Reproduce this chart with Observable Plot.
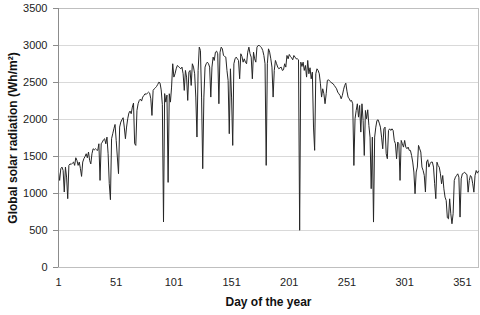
<!DOCTYPE html>
<html>
<head>
<meta charset="utf-8">
<script src="https://cdn.jsdelivr.net/npm/d3@7"></script>
<script src="https://cdn.jsdelivr.net/npm/@observablehq/plot@0.6"></script>
<style>
  html, body { margin: 0; padding: 0; background: #fff; }
  svg { font-family: "Liberation Sans", Arial, sans-serif; }
</style>
</head>
<body>
<div id="chart"></div>
<script>
// Daily global solar radiation (Wh/m²), day 1..365
const radiation = [
  1290,1177,1335,1357,1312,1020,1357,1222,930,1380,
  1400,1393,1410,1425,1380,1483,1447,1380,1425,1335,
  1231,1425,1470,1500,1537,1483,1560,1447,1400,1537,
  1605,1590,1605,1590,1582,1672,1177,1672,1695,1726,
  1740,1672,1762,1537,1132,916,1740,1807,1875,1933,
  1718,1493,1268,1898,1965,1997,2024,1898,1740,1898,
  2010,2087,2114,2078,2168,2222,1673,1650,2123,2213,
  2258,2276,2249,2303,2325,2348,2339,2357,2370,2357,
  2280,2055,2393,2415,2429,2447,2474,2505,2492,2400,
  2200,615,2350,2235,2330,1150,2348,2235,2438,2753,
  2573,2618,2685,2730,2717,2699,2685,2708,2618,2393,
  2663,2573,2258,2640,2663,2460,2753,2708,2618,2303,
  1763,2663,2978,2933,2303,1335,2303,2708,2753,2775,
  2753,2708,2303,2708,2843,2798,2910,2924,2888,2213,
  2910,2978,2955,2865,2852,2843,2663,2528,1808,2685,
  2303,1650,2753,2820,2843,2820,2798,2550,2888,2852,
  2775,2820,2775,2753,2910,2978,2888,2843,2550,2910,
  2820,2775,2978,3000,3000,2987,2969,2933,2865,2753,
  1380,2753,2955,2910,2820,2708,2303,2663,2798,2753,
  2708,2685,2699,2708,2663,2672,2753,2708,2865,2820,
  2879,2852,2834,2807,2865,2843,2820,2820,2807,503,
  2775,2717,2775,2663,2730,2573,2798,2618,2699,2550,
  2640,1898,1583,2618,2685,2663,2618,2483,2303,2415,
  2348,2213,2348,2528,2537,2519,2505,2492,2483,2460,
  2438,2415,2370,2347,2325,2280,2325,2401,2460,2491,
  2383,2302,2280,2248,2257,2212,1379,2010,2122,2212,
  2032,2190,1830,2212,1987,1514,2122,2010,2131,1919,
  1762,1065,1762,614,1762,1897,1987,1996,1951,1897,
  1762,1604,1874,1897,1537,1470,1852,1874,1852,1874,
  1852,1717,1672,1470,1695,1672,1177,1717,1672,1627,
  1717,1627,1605,1627,1582,1582,1515,1425,1290,997,
  1290,1357,1650,1605,1560,1357,1312,1245,1020,1425,
  1456,1357,1402,1425,1425,1357,1132,930,1423,1378,
  1356,1266,1131,1243,1063,951,906,672,658,928,
  726,591,726,1176,1221,1243,1266,1221,681,1198,
  1266,1275,1288,1266,1257,1018,1176,1243,1221,1131,
  1018,1243,1311,1275,1302
];
const days = radiation.map((_, i) => i + 1);
const xTicks = [1, 51, 101, 151, 201, 251, 301, 351];
const yTicks = [0, 500, 1000, 1500, 2000, 2500, 3000, 3500];

const data = days.map((d, i) => ({day: d, value: radiation[i]}));

const chart = Plot.plot({
  width: 480,
  height: 315,
  marginLeft: 58,
  marginRight: 2,
  marginTop: 8,
  marginBottom: 48,
  style: {fontFamily: "'Liberation Sans', Arial, sans-serif", fontSize: "11px", color: "#222", background: "#fff"},
  x: {domain: [1, 365]},
  y: {domain: [0, 3500]},
  marks: [
    Plot.gridY(yTicks, {stroke: "#d9d9d9", strokeOpacity: 1}),
    Plot.frame({stroke: "#bfbfbf"}),
    Plot.line(data, {x: "day", y: "value", stroke: "#262626", strokeWidth: 1}),
    Plot.ruleX([1], {stroke: "#8c8c8c"}),
    Plot.axisY(yTicks, {
      tickSize: 5, tickPadding: 6, stroke: "#8c8c8c",
      tickFormat: d => String(d),
      label: "Global solar radiation (Wh/m²)", labelAnchor: "center", labelArrow: "none",
      labelOffset: 50
    }),
    Plot.axisX(xTicks, {
      tickSize: 0, tickPadding: 11,
      tickFormat: d => String(d),
      label: "Day of the year", labelAnchor: "center", labelArrow: "none",
      labelOffset: 38
    })
  ]
});

chart.querySelectorAll("g[aria-label='y-axis label'] text, g[aria-label='x-axis label'] text").forEach(t => {
  t.setAttribute("font-weight", "bold");
  t.setAttribute("font-size", "12px");
  t.setAttribute("fill", "#111");
});
document.getElementById("chart").appendChild(chart);
</script>
</body>
</html>
